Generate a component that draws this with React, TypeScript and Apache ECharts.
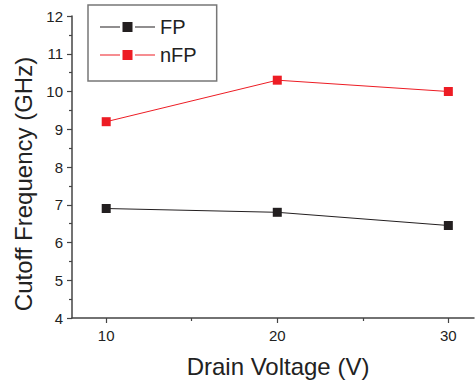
import React, { useEffect, useRef } from "react";
import * as echarts from "echarts";

const voltages = [10, 20, 30];
const fpValues = [6.9, 6.8, 6.45];
const nfpValues = [9.2, 10.3, 10.0];
const xMajorTicks = [10, 20, 30];
const xMinorTicks = [15, 25];

const FONT = "Liberation Sans, Arial, sans-serif";
const BLACK = "#231f20";
const RED = "#ed1c24";
const AXIS = "#444";

const legendIcon = "path://M0,4.6h20v0.8h-20z M22.5,0h10v10h-10z M35,4.6h20v0.8h-20z";

export default function App() {
  const ref = useRef<HTMLDivElement>(null);
  useEffect(() => {
    const chart = echarts.init(ref.current!, null, { renderer: "svg" });
    const xBase = { min: 8, max: 31.5, type: "value" as const };
    chart.setOption({
      animation: false,
      backgroundColor: "#fff",
      textStyle: { fontFamily: FONT },
      grid: { left: 72, right: 1, top: 16, bottom: 68 },
      legend: {
        left: 88,
        top: 5,
        orient: "vertical",
        borderColor: "#777",
        borderWidth: 1.5,
        padding: [12, 20, 16, 12],
        itemGap: 8,
        itemWidth: 55,
        itemHeight: 10,
        icon: legendIcon,
        textStyle: { fontSize: 20, color: "#222", fontFamily: FONT },
        data: ["FP", "nFP"],
      },
      xAxis: [
        {
          ...xBase,
          name: "Drain Voltage (V)",
          nameLocation: "middle",
          nameGap: 36,
          nameTextStyle: { fontSize: 24, color: "#222", fontFamily: FONT, padding: [0, 0, 0, 10] },
          splitLine: { show: false },
          axisLine: { show: true, lineStyle: { color: AXIS, width: 1.5 } },
          axisTick: { show: true, customValues: xMajorTicks, length: 5, lineStyle: { color: AXIS, width: 1.2 } },
          axisLabel: { customValues: xMajorTicks, fontSize: 15, color: "#222", margin: 10, fontFamily: FONT },
        },
        {
          ...xBase,
          position: "bottom",
          splitLine: { show: false },
          axisLine: { show: false },
          axisTick: { show: true, customValues: xMinorTicks, length: 3, lineStyle: { color: AXIS, width: 1.2 } },
          axisLabel: { show: false },
        },
      ],
      yAxis: {
        type: "value",
        min: 4,
        max: 12,
        interval: 1,
        name: "Cutoff Frequency (GHz)",
        nameLocation: "middle",
        nameGap: 36,
        nameTextStyle: { fontSize: 24, color: "#222", fontFamily: FONT, padding: [0, 34, 0, 0] },
        splitLine: { show: false },
        axisLine: { show: true, lineStyle: { color: AXIS, width: 1.5 } },
        axisTick: { show: true, length: 5, lineStyle: { color: AXIS, width: 1.2 } },
        minorTick: { show: true, splitNumber: 2, length: 3, lineStyle: { color: AXIS, width: 1.2 } },
        axisLabel: { fontSize: 15, color: "#222", margin: 9, fontFamily: FONT },
      },
      series: [
        {
          name: "FP",
          type: "line",
          data: voltages.map((v, i) => [v, fpValues[i]]),
          symbol: "rect",
          symbolSize: 9,
          itemStyle: { color: BLACK },
          lineStyle: { color: BLACK, width: 1 },
        },
        {
          name: "nFP",
          type: "line",
          data: voltages.map((v, i) => [v, nfpValues[i]]),
          symbol: "rect",
          symbolSize: 9,
          itemStyle: { color: RED },
          lineStyle: { color: RED, width: 1 },
        },
      ],
    });
    return () => chart.dispose();
  }, []);
  return <div ref={ref} style={{ width: 475, height: 386, position: "absolute", left: 0, top: 0 }} />;
}
